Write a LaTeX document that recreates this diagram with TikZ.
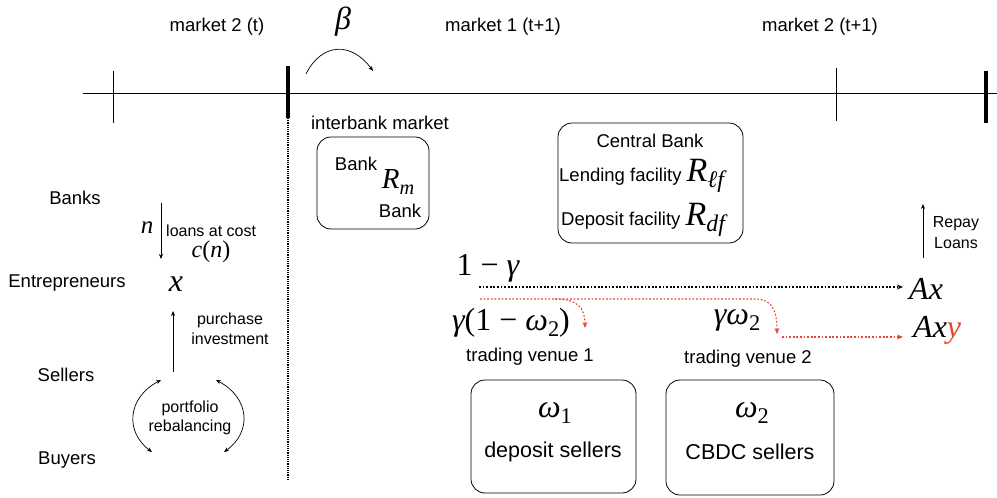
\documentclass[tikz,border=0pt]{standalone}
\usepackage{fontspec}
\usepackage{graphicx}
\setmainfont{Liberation Sans}
\newfontfamily\mf{Liberation Serif}
\usetikzlibrary{arrows.meta}
\definecolor{myred}{RGB}{226,72,48}
\newcommand{\fsz}[1]{\fontsize{#1}{#1}\selectfont}
\newcommand{\mi}[1]{{\mf\itshape #1}}
\newcommand{\mr}[1]{{\mf #1}}
\newcommand{\sbs}[1]{\raisebox{-0.35ex}{\scalebox{0.7}{#1}}}
\tikzset{
  lbl/.style={font=\fsz{18.5}, inner sep=0pt},
  sml/.style={font=\fsz{16}, inner sep=0pt},
  rbox/.style={draw, rounded corners=14pt, line width=0.8pt},
  blkarr/.style={-{Stealth[length=5pt,width=4pt]}, line width=0.7pt},
  dotarr/.style={dash pattern=on 1.8pt off 1.8pt, line width=1.3pt, -{Stealth[length=6pt,width=5pt]}},
}
\begin{document}
\begin{tikzpicture}[x=1pt,y=-1pt]
\useasboundingbox (0,0) rectangle (997,498);
% timeline
\coordinate (tl) at (83,93);
\coordinate (tr) at (997,93);
\draw[line width=0.8pt] (tl) -- (tr);
\coordinate (t1a) at (113,71); \coordinate (t1b) at (113,123);
\draw[line width=0.8pt] (t1a) -- (t1b);
\coordinate (t2a) at (288,66); \coordinate (t2b) at (288,118);
\draw[line width=4pt] (t2a) -- (t2b);
\coordinate (t2c) at (288,480);
\draw[densely dotted, line width=1.2pt] (t2b) -- (t2c);
\coordinate (t3a) at (836,68); \coordinate (t3b) at (836,121);
\draw[line width=0.8pt] (t3a) -- (t3b);
\coordinate (t4a) at (986,71); \coordinate (t4b) at (986,123);
\draw[line width=4pt] (t4a) -- (t4b);

\node[lbl] (m2t) at (217,27) {market 2 (t)};
\node[lbl] (m1) at (503,27) {market 1 (t+1)};
\node[lbl] (m2t1) at (820,27) {market 2 (t+1)};
\node[font=\fsz{32}, inner sep=0pt] (beta) at (343,22) {\mi{β}};
\coordinate (ba) at (306,74);
\coordinate (bb) at (373,71);
\draw[blkarr] (ba) .. controls (322,42) and (352,42) .. (bb);

% interbank
\node[lbl] (ibm) at (380,123) {interbank market};
\node[rbox, minimum width=112pt, minimum height=92pt] (ib) at (373,183) {};
\node[lbl] (bank1) at (356,164) {Bank};
\node[font=\fsz{29}, inner sep=0pt] (rm) at (398,182) {\mi{R}\sbs{\mi{m}}};
\node[lbl] (bank2) at (400,211) {Bank};

% central bank
\node[rbox, minimum width=185pt, minimum height=120pt] (cb) at (650.5,183) {};
\node[lbl] (cbt) at (650,141) {Central Bank};
\node[lbl, anchor=west, font=\fsz{18.5}] (lf) at (559,176) {Lending facility \fsz{34}\mi{R}\sbs{\mi{ℓf}}};
\node[lbl, anchor=west, font=\fsz{18.5}] (df) at (561,220) {Deposit facility \fsz{34}\mi{R}\sbs{\mi{df}}};

% left column
\node[lbl] (banks) at (75,198) {Banks};
\node[lbl] (entr) at (67,283) {Entrepreneurs};
\node[lbl] (sell) at (66,375) {Sellers};
\node[lbl] (buy) at (67,460) {Buyers};

\coordinate (na) at (161,203);
\coordinate (nb) at (161,259);
\draw[blkarr] (na) -- (nb);
\node[font=\fsz{25}, inner sep=0pt] (n) at (147,228) {\mi{n}};
\node[sml, anchor=west] (loans) at (166,231) {loans at cost};
\node[font=\fsz{24}, inner sep=0pt] (cn) at (211,252) {\mi{c}\mr{(}\mi{n}\mr{)}};
\node[font=\fsz{32}, inner sep=0pt] (x) at (176,284) {\mi{x}};

\coordinate (pa) at (173,372);
\coordinate (pb) at (173,311);
\draw[blkarr] (pa) -- (pb);
\node[sml] (purch) at (230,320) {purchase};
\node[sml] (inv) at (230,339) {investment};

\coordinate (l1) at (161,380); \coordinate (l2) at (152,452);
\coordinate (r1) at (216,380); \coordinate (r2) at (224,452);
\draw[{Stealth[length=5pt,width=4pt]}-{Stealth[length=5pt,width=4pt]}, line width=0.7pt] (l1) .. controls (127,398) and (125,432) .. (l2);
\draw[{Stealth[length=5pt,width=4pt]}-{Stealth[length=5pt,width=4pt]}, line width=0.7pt] (r1) .. controls (250,398) and (252,432) .. (r2);
\node[sml] (port) at (190,408) {portfolio};
\node[sml] (reb) at (190,427) {rebalancing};

% right part
\node[font=\fsz{32}, inner sep=0pt] (omg) at (488,268) {\mr{1 − }\mi{γ}};
\node[font=\fsz{32}, inner sep=0pt, anchor=west] (ax) at (909,289) {\mi{Ax}};
\coordinate (da) at (479,287);
\coordinate (db) at (903,287);
\draw[dotarr] (da) -- (db);
\node[font=\fsz{32}, inner sep=0pt, anchor=west] (axy) at (913,330) {\mi{Ax}\textcolor{myred}{\mi{y}}};
\node[font=\fsz{32}, inner sep=0pt] (g1) at (511,323) {\mi{γ}\mr{(1 − }\mi{ω}\sbs{\mr{2}}\mr{)}};
\node[font=\fsz{32}, inner sep=0pt] (g2) at (737,320) {\mi{γω}\sbs{\mr{2}}};

\coordinate (ra) at (480,299);
\coordinate (rb) at (555,299);
\coordinate (rc) at (585,328);
\coordinate (rd) at (777,334);
\coordinate (re) at (782,337);
\draw[myred, dotarr, line width=1.1pt] (ra) -- (755,299) .. controls (772,299) and (777,310) .. (rd);
\draw[myred, dotarr, line width=1.1pt] (rb) .. controls (578,299) and (585,308) .. (rc);
\coordinate (rf) at (903,337);
\draw[myred, dotarr, line width=1.1pt] (re) -- (rf);

\node[lbl] (tv1) at (530,357) {trading venue 1};
\node[lbl] (tv2) at (748,359) {trading venue 2};

\node[rbox, minimum width=165pt, minimum height=113pt] (b1) at (553.5,436.5) {};
\node[font=\fsz{32}, inner sep=0pt] (w1) at (555,413) {\mi{ω}\sbs{\mr{1}}};
\node[font=\fsz{21.5}, inner sep=0pt] (ds) at (553,452) {deposit sellers};
\node[rbox, minimum width=168pt, minimum height=115pt] (b2) at (750,437.5) {};
\node[font=\fsz{32}, inner sep=0pt] (w2) at (752,413) {\mi{ω}\sbs{\mr{2}}};
\node[font=\fsz{21.5}, inner sep=0pt] (cs) at (750,452) {CBDC sellers};

\coordinate (rpa) at (923,258);
\coordinate (rpb) at (923,204);
\draw[blkarr] (rpa) -- (rpb);
\node[sml] (rep) at (956,224) {Repay};
\node[sml] (loa) at (956,243) {Loans};
\end{tikzpicture}
\end{document}
